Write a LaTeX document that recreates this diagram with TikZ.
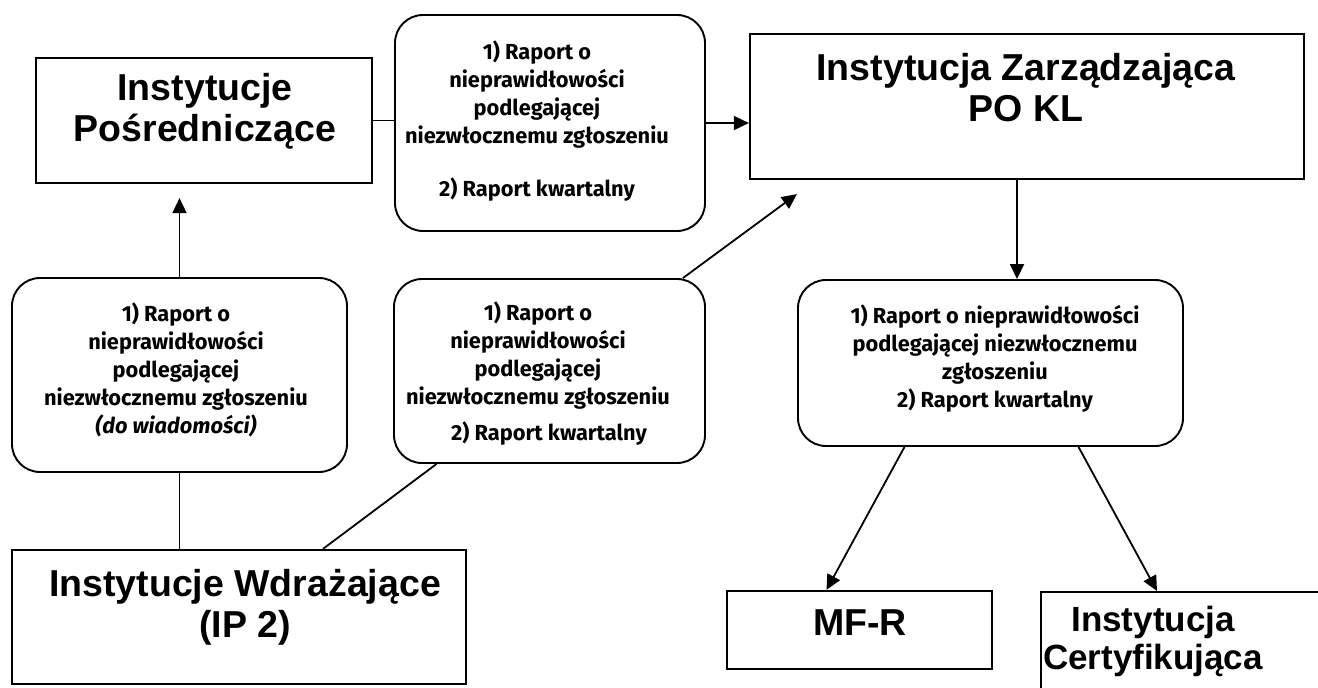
\documentclass[tikz,border=0pt]{standalone}
\usepackage{fontspec}
\newfontfamily\headfont{Liberation Sans}
\newfontfamily\comicfont{Fira Sans}
\usetikzlibrary{arrows.meta,calc}
\tikzset{
  box/.style={draw, line width=2.2pt, inner sep=0pt},
  rbox/.style={draw, line width=1.9pt, rounded corners=28pt, inner sep=0pt},
  head/.style={font=\headfont\bfseries\fontsize{37.5}{41}\selectfont, align=center, inner sep=0pt},
  rep/.style={font=\comicfont\bfseries\fontsize{21.8}{28}\selectfont, align=center, inner sep=0pt},
  conn/.style={line width=1.8pt},
  arr/.style={conn, -{Triangle[length=15pt,width=14pt]}},
}
\begin{document}
\begin{tikzpicture}[x=1pt,y=-1pt]
\useasboundingbox (0,0) rectangle (1318,688);
\clip (0,0) rectangle (1318,688);
% boxes
\node[box, minimum width=336pt, minimum height=125pt] (ipb) at (204,120.5) {};
\node[rbox, minimum width=310pt, minimum height=216pt] (r1) at (550,123) {};
\node[box, minimum width=554pt, minimum height=145pt] (izb) at (1027,106.5) {};
\node[rbox, minimum width=335pt, minimum height=194pt] (r4) at (179.5,375) {};
\node[rbox, minimum width=311pt, minimum height=184pt] (r2) at (549.5,371) {};
\node[rbox, minimum width=385pt, minimum height=166pt] (r3) at (990.5,363) {};
\node[box, minimum width=454pt, minimum height=134pt] (iwb) at (239,617) {};
\node[box, minimum width=265pt, minimum height=78pt] (mfb) at (859.5,630) {};
\node[box, anchor=north west, minimum width=300pt, minimum height=120pt] (icb) at (1040,591) {};
% texts
\node[head] (ipt) at (205,111) {Instytucje\\Pośredniczące};
\node[head] (izt) at (1026,87.5) {Instytucja Zarządzająca\\PO KL};
\node[head] (iwt) at (245,607) {Instytucje Wdrażające\\(IP 2)};
\node[head] (mft) at (860,623) {MF-R};
\node[head, font=\headfont\bfseries\fontsize{35}{38}\selectfont] (ict) at (1153,641) {Instytucja\\Certyfikująca};
\node[rep] (r1t) at (537,121.5) {1) Raport o\\nieprawidłowości\\podlegającej\\niezwłocznemu zgłoszeniu\\[25pt]2) Raport kwartalny};
\node[rep] (r4t) at (176,370) {1) Raport o\\nieprawidłowości\\podlegającej\\niezwłocznemu zgłoszeniu\\{\itshape (do wiadomości)}};
\node[rep] (r2t) at (538,374) {1) Raport o\\nieprawidłowości\\podlegającej\\niezwłocznemu zgłoszeniu\\[8pt]\hspace*{22pt}2) Raport kwartalny};
\node[rep] (r3t) at (995,358.5) {1) Raport o nieprawidłowości\\podlegającej niezwłocznemu\\zgłoszeniu\\2) Raport kwartalny};
% connectors
\draw[conn] (ipb.east) -- (ipb.east -| r1.west);
\draw[arr] (r1.east) -- (r1.east -| izb.west);
\draw[arr] ([xshift=-10pt]izb.south) -- ([xshift=-10pt]izb.south |- r3.north);
\draw[arr] (r4.north) -- ([yshift=-14pt]ipb.south -| r4.north);
\draw[conn] (iwb.north -| r4.south) -- (r4.south);
\draw[conn] ([xshift=84pt]iwb.north) -- ([xshift=-113pt]r2.south);
\draw[arr] ([xshift=-23pt]r2.north east) -- ([xshift=48pt,yshift=-14pt]izb.south west);
\draw[arr] ([xshift=-86pt]r3.south) -- ([xshift=-33pt]mfb.north);
\draw[arr] ([xshift=88pt]r3.south) -- ([xshift=117pt]icb.north west);
\end{tikzpicture}
\end{document}
